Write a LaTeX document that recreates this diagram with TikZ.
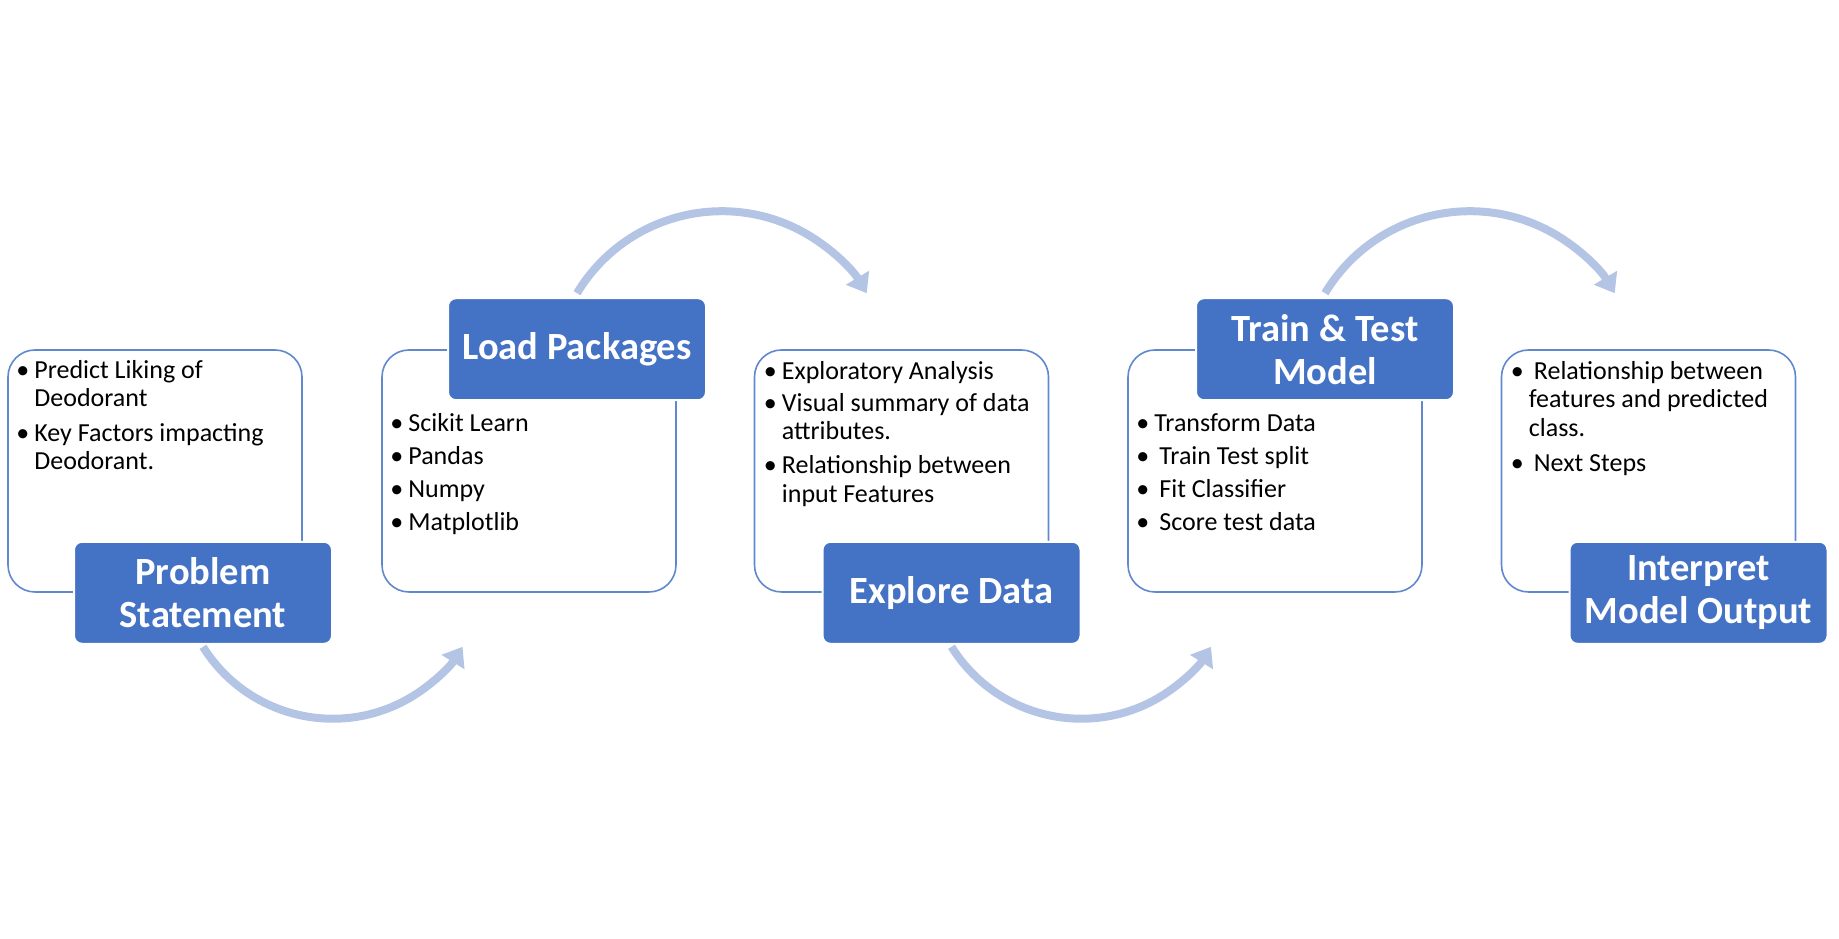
\documentclass[tikz,border=0pt]{standalone}
\usepackage{fontspec}
\setmainfont{Carlito}
\usetikzlibrary{arrows.meta,positioning}
\definecolor{stageblue}{RGB}{68,114,196}
\definecolor{frameblue}{RGB}{96,136,206}
\definecolor{flowblue}{RGB}{180,196,228}
\newcommand{\bul}{\strut\makebox[18pt][l]{\textbullet}}
\newcommand{\ind}{\hspace*{18pt}}

\begin{document}
\begin{tikzpicture}[x=1pt, y=1pt,
        card/.style={draw=frameblue, line width=1.6pt, rounded corners=27pt, minimum width=294pt, minimum height=242pt, inner sep=0pt},
        title/.style={fill=stageblue, draw=white, line width=2pt, rounded corners=8pt, text=white, minimum width=258pt, minimum height=102pt, align=center, inner sep=0pt, font=\fontsize{38.5}{43}\selectfont\bfseries},
        items/.style={anchor=north west, align=left, inner sep=0pt, font=\fontsize{26}{28.5}\selectfont},
        flow/.style={draw=flowblue, line width=8pt, -{Triangle[length=18pt, width=26pt]}}]
    \useasboundingbox (0,0) rectangle (1839,939);

    % White cards
    \node[card] (c1) at (155,468) {};
    \node[card] (c2) at (529,468) {};
    \node[card] (c3) at (901.5,468) {};
    \node[card] (c4) at (1275,468) {};
    \node[card] (c5) at (1648.5,468) {};

    % Bullet lists
    \node[items] (l1) at ([xshift=9pt, yshift=-9pt]c1.north west) {\bul Predict Liking of\\ \ind Deodorant\\[6pt] \bul Key Factors impacting\\ \ind Deodorant.};
    \node[items] (l2) at ([xshift=9pt, yshift=-62pt]c2.north west) {\bul Scikit Learn\\[4.5pt] \bul Pandas\\[4.5pt] \bul Numpy\\[4.5pt] \bul Matplotlib};
    \node[items] (l3) at ([xshift=10pt, yshift=-10pt]c3.north west) {\bul Exploratory Analysis\\[3.5pt] \bul Visual summary of data\\ \ind attributes.\\[5.5pt] \bul Relationship between\\ \ind input Features};
    \node[items] (l4) at ([xshift=9pt, yshift=-62pt]c4.north west) {\bul Transform Data\\[4.5pt] \bul\hspace{5pt}Train Test split\\[4.5pt] \bul\hspace{5pt}Fit Classifier\\[4.5pt] \bul\hspace{5pt}Score test data};
    \node[items] (l5) at ([xshift=10pt, yshift=-10pt]c5.north west) {\bul\hspace{5pt}Relationship between\\ \ind features and predicted\\ \ind class.\\[6.5pt] \bul\hspace{5pt}Next Steps};

    % Blue titles
    \node[title] (t1) at ([xshift=48pt]c1.south) {Problem\\Statement};
    \node[title] (t2) at ([xshift=48pt]c2.north) {Load Packages};
    \node[title] (t3) at ([xshift=50pt]c3.south) {Explore Data};
    \node[title] (t4) at ([xshift=50pt]c4.north) {Train \& Test\\Model};
    \node[title] (t5) at ([xshift=50pt]c5.south) {Interpret\\Model Output};

    % Curved arrows between stages
    \draw[flow] ([yshift=-2pt]t1.south) arc[start angle=212, end angle=328, radius=153];
    \draw[flow] ([yshift=4pt]t2.north) arc[start angle=149, end angle=31, radius=169];
    \draw[flow] ([yshift=-2pt]t3.south) arc[start angle=212, end angle=328, radius=153];
    \draw[flow] ([yshift=4pt]t4.north) arc[start angle=149, end angle=31, radius=169];
\end{tikzpicture}
\end{document}
